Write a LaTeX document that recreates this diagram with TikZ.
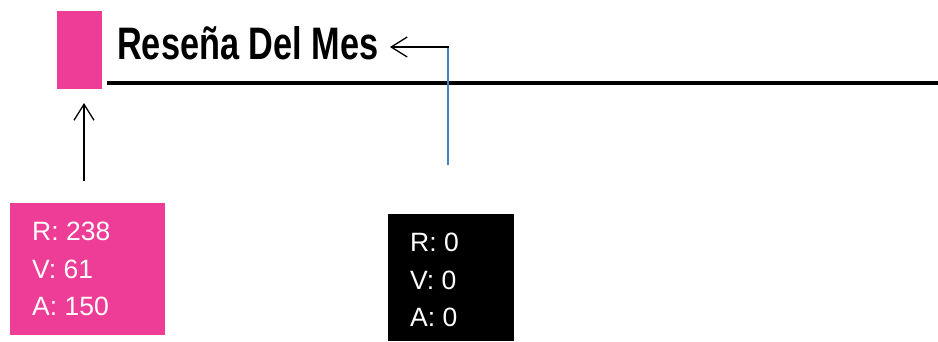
\documentclass[tikz,border=0pt]{standalone}
\usepackage{fontspec}
\setmainfont{Liberation Sans}
\usetikzlibrary{arrows.meta}
\definecolor{pinkc}{RGB}{238,61,150}
\definecolor{bluec}{RGB}{70,130,200}
\tikzset{
  ptr/.style={line width=1.3pt,-{Straight Barb[length=16pt,width=20pt,line width=1.3pt]}},
  swatch/.style={inner sep=0pt,outer sep=0pt,anchor=north west},
  vals/.style={text=white,font=\fontsize{26.5}{37.3}\selectfont,align=left,anchor=north west,inner sep=0pt}
}
\begin{document}
\begin{tikzpicture}[x=1pt,y=-1pt]
\useasboundingbox (0,0) rectangle (938,341);
% pink square
\node[swatch,fill=pinkc,minimum width=45pt,minimum height=78pt] (sq) at (57,11) {};
% title
\node[anchor=south west,inner sep=0pt] (title) at (117,60.5)
  {\resizebox{261pt}{33pt}{\bfseries Reseña Del Mes}};
% rule
\coordinate (r1) at (107,83);
\coordinate (r2) at (938,83);
\draw[line width=4pt] (r1) -- (r2);
% boxes
\node[swatch,fill=pinkc,minimum width=155pt,minimum height=132pt] (pbox) at (10,203) {};
\node[swatch,fill=black,minimum width=126pt,minimum height=127pt] (bbox) at (388,214) {};
\node[vals] (ptext) at (32,222) {R: 238\\V: 61\\A: 150};
\node[vals] (btext) at (410,233) {R: 0\\V: 0\\A: 0};
% connectors
\coordinate (a1) at (84,181);
\coordinate (a2) at (84,103);
\draw[ptr] (a1) -- (a2);
\coordinate (b1) at (448,165);
\coordinate (b2) at (448,47);
\coordinate (b3) at (390,47);
\draw[bluec,line width=1.5pt] (b1) -- (b2);
\draw[ptr] ([xshift=0.7pt]b2) -- (b3);
\end{tikzpicture}
\end{document}
